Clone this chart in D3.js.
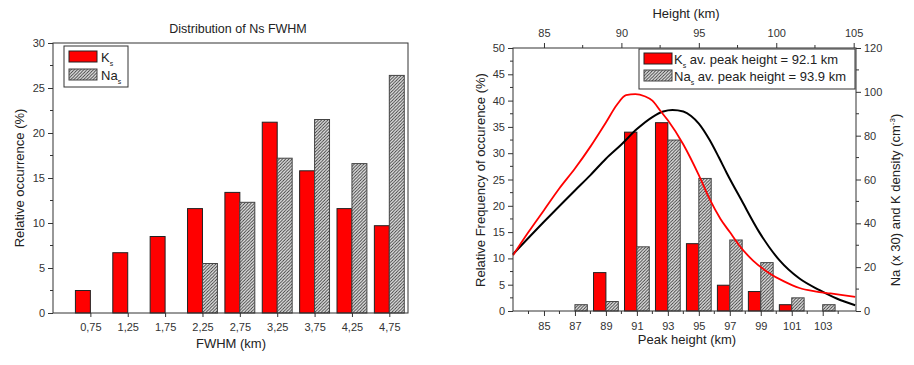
<!DOCTYPE html>
<html><head><meta charset="utf-8">
<script src="https://cdn.jsdelivr.net/npm/d3@7"></script>
<style>
body{margin:0;background:#fff}
text{font-family:Arial,"Liberation Sans",sans-serif;fill:#222}
.axis path,.axis line{stroke:#333;stroke-width:1}
.axis text{font-size:11px;fill:#333}
</style>
</head><body>
<svg id="c" width="914" height="365"></svg>
<script>
// ---------- Data: left chart (FWHM distribution) ----------
const fwhmCats = [0.75, 1.25, 1.75, 2.25, 2.75, 3.25, 3.75, 4.25, 4.75];
const fwhmLabels = ["0,75", "1,25", "1,75", "2,25", "2,75", "3,25", "3,75", "4,25", "4,75"];
const fwhmK  = [2.5, 6.7, 8.5, 11.6, 13.4, 21.2, 15.8, 11.6, 9.7];
const fwhmNa = [0, 0, 0, 5.5, 12.3, 17.2, 21.5, 16.6, 26.4];
const fwhmYTicks = [0, 5, 10, 15, 20, 25, 30];

// ---------- Data: right chart (peak height distribution) ----------
const heightCats = [87, 89, 91, 93, 95, 97, 99, 101, 103];
const heightK  = [0, 7.3, 34.0, 35.8, 12.8, 4.9, 3.7, 1.2, 0];
const heightNa = [1.2, 1.8, 12.2, 32.5, 25.2, 13.5, 9.2, 2.5, 1.2];
const heightBottomTicks = [85, 87, 89, 91, 93, 95, 97, 99, 101, 103];
const heightTopTicks = [85, 90, 95, 100, 105];
const freqTicks = [0, 5, 10, 15, 20, 25, 30, 35, 40, 45, 50];
const densTicks = [0, 20, 40, 60, 80, 100, 120];

// K density profile (red) and Na x30 density profile (black), right axis
const kDensH = [83, 84, 85, 86, 87, 88, 89, 89.7, 90.3, 90.9, 91.5, 92, 92.5, 93, 94, 95, 95.7, 96.4, 97, 97.6, 98.5, 99.5, 100.5, 101.5, 102.5, 103.5, 105.1];
const kDensV = [25.4, 36, 46, 56, 65, 75, 86, 94, 98.5, 99, 98, 96, 91.5, 87, 76, 62, 51, 42, 36, 30, 23, 17.5, 13.5, 10.5, 9, 8, 6.4];
const naDensH = [83, 85, 87, 88, 89, 90, 91, 92, 92.7, 93.3, 94, 94.5, 95, 95.7, 96.3, 96.8, 97.75, 98.9, 100.2, 101.5, 102.8, 103.9, 105.1];
const naDensV = [25.9, 40.7, 55, 62, 69.5, 76, 83, 88.5, 91, 91.7, 91, 89, 85.5, 78, 70, 63, 50.6, 36, 23.2, 14.8, 9.5, 5.7, 2.6];

const svg = d3.select("#c");
const defs = svg.append("defs");
const pat = defs.append("pattern").attr("id", "hatch").attr("patternUnits", "userSpaceOnUse")
  .attr("width", 3.2).attr("height", 3.2);
pat.append("rect").attr("width", 3.2).attr("height", 3.2).attr("fill", "#e6e6e6");
pat.append("path").attr("d", "M-0.8,0.8 l1.6,-1.6 M0,3.2 l3.2,-3.2 M2.4,4 l1.6,-1.6")
  .attr("stroke", "#333").attr("stroke-width", 0.9);

function minorTicks(g, scale, vals, orient, len) {
  vals.forEach(v => {
    const p = scale(v);
    let l;
    if (orient === "left") l = [[-len, p], [0, p]];
    else if (orient === "right") l = [[0, p], [len, p]];
    else if (orient === "bottom") l = [[p, 0], [p, len]];
    else l = [[p, -len], [p, 0]];
    g.append("line").attr("x1", l[0][0]).attr("y1", l[0][1]).attr("x2", l[1][0]).attr("y2", l[1][1])
      .attr("stroke", "#333");
  });
}

// ================= LEFT CHART =================
{
  const L = 53, R = 408, T = 43, B = 313;
  const x = d3.scaleLinear().domain([0.25, 5.0]).range([L, R]);
  const y = d3.scaleLinear().domain([0, 30]).range([B, T]);
  const bw = 0.2;
  const g = svg.append("g");

  g.selectAll("rect.k").data(fwhmCats).join("rect")
    .attr("x", (d) => x(d - bw)).attr("width", (d) => x(d) - x(d - bw))
    .attr("y", (d, i) => y(fwhmK[i])).attr("height", (d, i) => B - y(fwhmK[i]))
    .attr("fill", "#ff0000").attr("stroke", "#222").attr("stroke-width", 1);
  g.selectAll("rect.na").data(fwhmCats.filter((d, i) => fwhmNa[i] > 0)).join("rect")
    .attr("x", (d) => x(d)).attr("width", (d) => x(d + bw) - x(d))
    .attr("y", (d) => y(fwhmNa[fwhmCats.indexOf(d)])).attr("height", (d) => B - y(fwhmNa[fwhmCats.indexOf(d)]))
    .attr("fill", "url(#hatch)").attr("stroke", "#444").attr("stroke-width", 1);

  g.append("rect").attr("x", L).attr("y", T).attr("width", R - L).attr("height", B - T)
    .attr("fill", "none").attr("stroke", "#333");

  const ya = g.append("g").attr("class", "axis").attr("transform", `translate(${L},0)`)
    .call(d3.axisLeft(y).tickValues(fwhmYTicks).tickSize(5).tickPadding(3));
  ya.select(".domain").remove();
  minorTicks(ya, y, [2.5, 7.5, 12.5, 17.5, 22.5, 27.5], "left", 3);

  const xa = g.append("g").attr("class", "axis").attr("transform", `translate(0,${B})`)
    .call(d3.axisBottom(x).tickValues(fwhmCats).tickFormat((d, i) => fwhmLabels[i]).tickSize(4).tickPadding(6));
  xa.select(".domain").remove();

  svg.append("text").attr("x", 238).attr("y", 33).attr("text-anchor", "middle")
    .style("font-size", "12.5px").text("Distribution of Ns FWHM");
  svg.append("text").attr("x", 231).attr("y", 348).attr("text-anchor", "middle")
    .style("font-size", "13px").text("FWHM (km)");
  svg.append("text").attr("transform", "translate(24,178) rotate(-90)").attr("text-anchor", "middle")
    .style("font-size", "13px").text("Relative occurrence (%)");

  // legend
  const lg = svg.append("g");
  lg.append("rect").attr("x", 64).attr("y", 46).attr("width", 64).attr("height", 41)
    .attr("fill", "#fff").attr("stroke", "#333");
  lg.append("rect").attr("x", 69).attr("y", 51).attr("width", 28).attr("height", 11)
    .attr("fill", "#ff0000").attr("stroke", "#222");
  lg.append("rect").attr("x", 69).attr("y", 69).attr("width", 28).attr("height", 11)
    .attr("fill", "url(#hatch)").attr("stroke", "#444");
  const t1 = lg.append("text").attr("x", 101).attr("y", 62).style("font-size", "13px");
  t1.append("tspan").text("K");
  t1.append("tspan").attr("dy", 4).style("font-size", "7px").text("s");
  const t2 = lg.append("text").attr("x", 101).attr("y", 80).style("font-size", "13px");
  t2.append("tspan").text("Na");
  t2.append("tspan").attr("dy", 4).style("font-size", "7px").text("s");
}

// ================= RIGHT CHART =================
{
  const L = 513, R = 856, T = 48, B = 311;
  const x = d3.scaleLinear().domain([83, 105.15]).range([L, R]);
  const yL = d3.scaleLinear().domain([0, 50]).range([B, T]);
  const yR = d3.scaleLinear().domain([0, 120]).range([B, T]);
  const bw = 0.8;
  const g = svg.append("g");

  g.selectAll("rect.k").data(heightCats.filter((d, i) => heightK[i] > 0)).join("rect")
    .attr("x", (d) => x(d - bw)).attr("width", (d) => x(d) - x(d - bw))
    .attr("y", (d) => yL(heightK[heightCats.indexOf(d)])).attr("height", (d) => B - yL(heightK[heightCats.indexOf(d)]))
    .attr("fill", "#ff0000").attr("stroke", "#222").attr("stroke-width", 1);
  g.selectAll("rect.na").data(heightCats).join("rect")
    .attr("x", (d) => x(d)).attr("width", (d) => x(d + bw) - x(d))
    .attr("y", (d, i) => yL(heightNa[i])).attr("height", (d, i) => B - yL(heightNa[i]))
    .attr("fill", "url(#hatch)").attr("stroke", "#444").attr("stroke-width", 1);

  const line = d3.line().curve(d3.curveMonotoneX);
  g.append("path").attr("d", line(naDensH.map((h, i) => [x(h), yR(naDensV[i])])))
    .attr("fill", "none").attr("stroke", "#000").attr("stroke-width", 2);
  g.append("path").attr("d", line(kDensH.map((h, i) => [x(h), yR(kDensV[i])])))
    .attr("fill", "none").attr("stroke", "#ff0000").attr("stroke-width", 1.8);

  g.append("rect").attr("x", L).attr("y", T).attr("width", R - L).attr("height", B - T)
    .attr("fill", "none").attr("stroke", "#333");

  const ya = g.append("g").attr("class", "axis").attr("transform", `translate(${L},0)`)
    .call(d3.axisLeft(yL).tickValues(freqTicks).tickSize(5).tickPadding(3));
  ya.select(".domain").remove();
  minorTicks(ya, yL, freqTicks.slice(0, -1).map(v => v + 2.5), "left", 3);

  const yra = g.append("g").attr("class", "axis").attr("transform", `translate(${R},0)`)
    .call(d3.axisRight(yR).tickValues(densTicks).tickSize(5).tickPadding(3));
  yra.select(".domain").remove();
  minorTicks(yra, yR, [10, 30, 50, 70, 90, 110], "right", 3);

  const xa = g.append("g").attr("class", "axis").attr("transform", `translate(0,${B})`)
    .call(d3.axisBottom(x).tickValues(heightBottomTicks).tickSize(5).tickPadding(6));
  xa.select(".domain").remove();
  minorTicks(xa, x, [84, 86, 88, 90, 92, 94, 96, 98, 100, 102, 104], "bottom", 3);

  const xt = g.append("g").attr("class", "axis").attr("transform", `translate(0,${T})`)
    .call(d3.axisTop(x).tickValues(heightTopTicks).tickSize(5).tickPadding(6));
  xt.select(".domain").remove();
  minorTicks(xt, x, [87.5, 92.5, 97.5, 102.5], "top", 3);

  svg.append("text").attr("x", 686).attr("y", 18).attr("text-anchor", "middle")
    .style("font-size", "13px").text("Height (km)");
  svg.append("text").attr("x", 687).attr("y", 344).attr("text-anchor", "middle")
    .style("font-size", "13px").text("Peak height (km)");
  svg.append("text").attr("transform", "translate(485,180) rotate(-90)").attr("text-anchor", "middle")
    .style("font-size", "13px").text("Relative Frequency of occurence (%)");
  const rt = svg.append("text").attr("transform", "translate(900,200) rotate(-90)").attr("text-anchor", "middle")
    .style("font-size", "13px");
  rt.append("tspan").text("Na (x 30) and K density (cm");
  rt.append("tspan").attr("dy", -5).style("font-size", "8px").text("-3");
  rt.append("tspan").attr("dy", 5).text(")");

  // legend
  const lg = svg.append("g");
  lg.append("rect").attr("x", 639).attr("y", 49).attr("width", 216).attr("height", 40)
    .attr("fill", "#fff").attr("stroke", "#333");
  lg.append("rect").attr("x", 644).attr("y", 53).attr("width", 28).attr("height", 11)
    .attr("fill", "#ff0000").attr("stroke", "#222");
  lg.append("rect").attr("x", 644).attr("y", 70).attr("width", 28).attr("height", 11)
    .attr("fill", "url(#hatch)").attr("stroke", "#444");
  const t1 = lg.append("text").attr("x", 674).attr("y", 64).style("font-size", "13px");
  t1.append("tspan").text("K");
  t1.append("tspan").attr("dy", 4).style("font-size", "7px").text("s");
  t1.append("tspan").attr("dy", -4).text(" av. peak height = 92.1 km");
  const t2 = lg.append("text").attr("x", 674).attr("y", 81).style("font-size", "13px");
  t2.append("tspan").text("Na");
  t2.append("tspan").attr("dy", 4).style("font-size", "7px").text("s");
  t2.append("tspan").attr("dy", -4).text(" av. peak height = 93.9 km");
}
</script>
</body></html>
